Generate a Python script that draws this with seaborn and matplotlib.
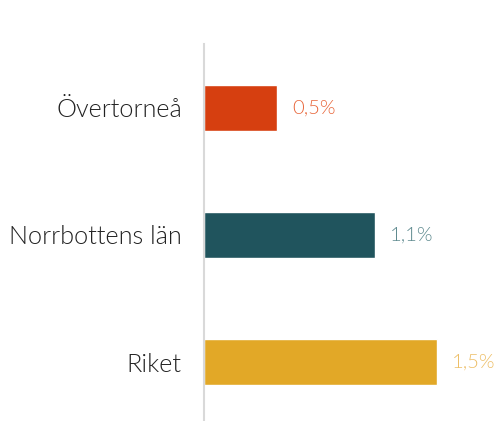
import pandas as pd
import matplotlib.pyplot as plt
import seaborn as sns

categories = ['Övertorneå', 'Norrbottens län', 'Riket']
values = [0.47, 1.10, 1.50]
labels = ['0,5%', '1,1%', '1,5%']
bar_colors = ['#D63F10', '#20545D', '#E2A827']
label_colors = ['#E8663A', '#5E8A8F', '#EDBE66']

sns.set_style('white')
plt.rcParams['font.family'] = ['Lato', 'DejaVu Sans']

df = pd.DataFrame({'omrade': categories, 'andel': values})

fig = plt.figure(figsize=(4.99, 4.21), dpi=100)
ax = fig.add_axes([204 / 499, -5 / 421, 279 / 499, 382 / 421])

sns.barplot(data=df, x='andel', y='omrade', hue='omrade', palette=bar_colors,
            orient='h', width=0.36, legend=False, ax=ax, saturation=1)

for i, (v, lab) in enumerate(zip(values, labels)):
    ax.text(v + 0.1, i, lab, color=label_colors[i], fontsize=14.5,
            va='center', ha='left', fontweight=300)

ax.set_xlim(0, 1.8)
ax.set_ylim(2.5, -0.5)
ax.set_xlabel('')
ax.set_ylabel('')
ax.set_xticks([])
ax.tick_params(axis='y', length=0, pad=16, labelsize=18.2, labelcolor='#222222')
for t in ax.get_yticklabels():
    t.set_fontweight(300)

for s in ['top', 'right', 'bottom']:
    ax.spines[s].set_visible(False)
ax.spines['left'].set_color('#d9d9d9')
ax.spines['left'].set_linewidth(1.5)

fig.savefig('out.png', dpi=100)
